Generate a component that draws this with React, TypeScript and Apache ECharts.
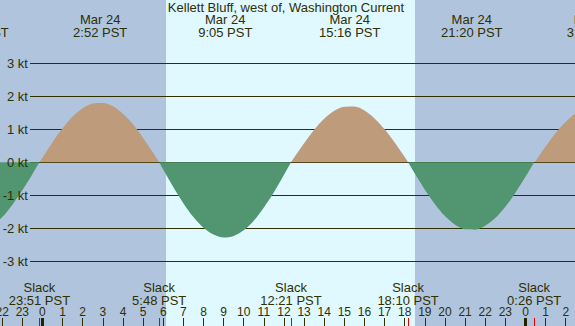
import React, { useEffect, useRef } from "react";
import * as echarts from "echarts";

const TITLE = "Kellett Bluff, west of, Washington Current";

// current speed (kt) at hours relative to Mar 24 00:00 PST
const HOURS = [
  -3, -2.5, -2, -1.5, -1, -0.5, -0.15,
  0, 0.5, 1, 1.5, 2, 2.5, 3, 3.5, 4, 4.5, 5, 5.5, 5.8,
  6, 6.5, 7, 7.5, 8, 8.5, 9, 9.5, 10, 10.5, 11, 11.5, 12, 12.35,
  12.5, 13, 13.5, 14, 14.5, 15, 15.5, 16, 16.5, 17, 17.5, 18, 18.17,
  18.5, 19, 19.5, 20, 20.5, 21, 21.5, 22, 22.5, 23, 23.5, 24, 24.43,
  24.5, 25, 25.5, 26, 26.5, 27,
];
const SPEEDS = [
  -2.07, -1.92, -1.66, -1.29, -0.85, -0.36, 0,
  0.14, 0.61, 1.03, 1.39, 1.64, 1.78, 1.8, 1.7, 1.47, 1.15, 0.74, 0.29, 0,
  -0.22, -0.75, -1.24, -1.66, -1.98, -2.19, -2.28, -2.23, -2.06, -1.77, -1.37, -0.91, -0.38, 0,
  0.14, 0.58, 0.99, 1.32, 1.56, 1.68, 1.69, 1.57, 1.33, 1.0, 0.6, 0.16, 0,
  -0.34, -0.83, -1.27, -1.63, -1.89, -2.03, -2.04, -1.92, -1.69, -1.35, -0.92, -0.44, 0,
  0.04, 0.48, 0.89, 1.23, 1.49, 1.65,
];

const Y_TICKS = [-3, -2, -1, 0, 1, 2, 3];
const HOUR_TICKS = [-2, -1, 0, 1, 2, 3, 4, 5, 6, 7, 8, 9, 10, 11, 12, 13, 14, 15, 16, 17, 18, 19, 20, 21, 22, 23, 24, 25, 26];

const PEAK_TIMES = [-3.2, 2.867, 9.083, 15.267, 21.333, 27.4];
const PEAK_DATES = ["Mar 23", "Mar 24", "Mar 24", "Mar 24", "Mar 24", "Mar 25"];
const PEAK_LABELS = ["20:48 PST", "2:52 PST", "9:05 PST", "15:16 PST", "21:20 PST", "3:24 PST"];

const SLACK_TIMES = [-0.15, 5.8, 12.35, 18.167, 24.433];
const SLACK_LABELS = ["23:51 PST", "5:48 PST", "12:21 PST", "18:10 PST", "0:26 PST"];

const MIDNIGHTS = [0, 24];
const SUNRISE = 6.14;
const SUNSET = 18.51;

const X_MIN = -2.11;
const X_MAX = 26.46;
const Y_MIN = -4.96;
const Y_MAX = 4.918;
const GRIDLINE_LEFT_PX = 30;

const NIGHT = "#b0c4de";
const DAY = "#e0f8ff";
const FLOOD = "#bd9b7b";
const EBB = "#519670";
const INK = "#2f2f00";
const FONT = "Liberation Sans, Arial, sans-serif";

export default function App() {
  const ref = useRef<HTMLDivElement>(null);

  useEffect(() => {
    document.body.style.margin = "0";
    const el = ref.current!;
    const chart = echarts.init(el, null, { renderer: "svg" });
    const pairs = HOURS.map((h, i) => [h, SPEEDS[i]]);

    chart.setOption({
      animation: false,
      grid: { left: 0, right: 0, top: 0, bottom: 0, containLabel: false, outerBoundsMode: "none" },
      xAxis: {
        type: "value",
        min: X_MIN,
        max: X_MAX,
        z: 50,
        axisLine: { show: false, onZero: false },
        splitLine: { show: false },
        axisTick: { show: true, inside: true, length: 8, customValues: HOUR_TICKS, lineStyle: { color: INK, width: 1 } },
        axisLabel: {
          inside: true,
          customValues: HOUR_TICKS,
          margin: 14,
          verticalAlign: "middle",
          hideOverlap: false,
          color: INK,
          fontSize: 12,
          fontFamily: FONT,
          formatter: (v: number) => String(((Math.round(v) % 24) + 24) % 24),
        },
      },
      yAxis: {
        type: "value",
        min: Y_MIN,
        max: Y_MAX,
        z: 50,
        axisLine: { show: false, onZero: false },
        axisTick: { show: false },
        splitLine: { show: false },
        axisLabel: {
          inside: true,
          customValues: Y_TICKS,
          align: "right",
          margin: 28,
          color: INK,
          fontSize: 13,
          fontFamily: FONT,
          formatter: "{value} kt",
        },
      },
      series: [
        {
          type: "line",
          data: pairs,
          symbol: "none",
          silent: true,
          z: 1,
          lineStyle: { opacity: 0 },
        },
        {
          type: "line",
          data: pairs.map(([h, v]) => (v >= 0 ? [h, v] : [h, "-"])),
          symbol: "none",
          smooth: 0.3,
          silent: true,
          z: 3,
          lineStyle: { width: 0 },
          areaStyle: { color: FLOOD, opacity: 1 },
        },
        {
          type: "line",
          data: pairs.map(([h, v]) => (v <= 0 ? [h, v] : [h, "-"])),
          symbol: "none",
          smooth: 0.3,
          silent: true,
          z: 3,
          lineStyle: { width: 0 },
          areaStyle: { color: EBB, opacity: 1 },
        },
      ],
    });

    const px = (h: number) => chart.convertToPixel({ xAxisIndex: 0 }, h) as number;
    const py = (v: number) => chart.convertToPixel({ yAxisIndex: 0 }, v) as number;
    const vAt = (y: number) => chart.convertFromPixel({ yAxisIndex: 0 }, y) as number;
    const hStart = chart.convertFromPixel({ xAxisIndex: 0 }, GRIDLINE_LEFT_PX) as number;

    // background day/night bands, then 1px gridlines drawn beneath the current areas
    const bands: any[] = [
      [{ xAxis: X_MIN, itemStyle: { color: NIGHT, opacity: 1 } }, { xAxis: SUNRISE }],
      [{ xAxis: SUNRISE, itemStyle: { color: DAY, opacity: 1 } }, { xAxis: SUNSET }],
      [{ xAxis: SUNSET, itemStyle: { color: NIGHT, opacity: 1 } }, { xAxis: X_MAX }],
    ];
    Y_TICKS.forEach((v) => {
      const r = Math.floor(py(v));
      bands.push([
        { xAxis: hStart, yAxis: vAt(r), itemStyle: { color: INK, opacity: 1 } },
        { xAxis: X_MAX, yAxis: vAt(r + 1) },
      ]);
    });

    const textStyle = (text: string, x: number, y: number, lh = 13) => ({
      text,
      x,
      y,
      fill: INK,
      fontSize: 13,
      fontFamily: FONT,
      lineHeight: lh,
      align: "center",
      verticalAlign: "middle",
      textAlign: "center",
      textVerticalAlign: "middle",
    });

    const graphics: any[] = [];
    graphics.push({ type: "text", z: 100, style: textStyle(TITLE, 286, 7.5) });
    PEAK_TIMES.forEach((t, i) => {
      graphics.push({ type: "text", z: 100, style: textStyle(PEAK_DATES[i] + "\n" + PEAK_LABELS[i], px(t), 25.5) });
    });
    SLACK_TIMES.forEach((t, i) => {
      graphics.push({ type: "text", z: 100, style: textStyle("Slack\n" + SLACK_LABELS[i], px(t), 293.5) });
      const x = Math.round(px(t)) + 0.5;
      graphics.push({ type: "line", z: 100, shape: { x1: x, y1: 318, x2: x, y2: 326 }, style: { stroke: "#e00000", lineWidth: 1 } });
    });
    MIDNIGHTS.forEach((t) => {
      const x = px(t);
      graphics.push({ type: "rect", z: 101, shape: { x: x - 1.5, y: 318, width: 3, height: 8 }, style: { fill: "#222200" } });
    });

    chart.setOption({
      graphic: graphics,
      series: [
        {
          markArea: { silent: true, data: bands },
        },
      ],
    });

    return () => chart.dispose();
  }, []);

  return <div ref={ref} style={{ width: 575, height: 326 }} />;
}
